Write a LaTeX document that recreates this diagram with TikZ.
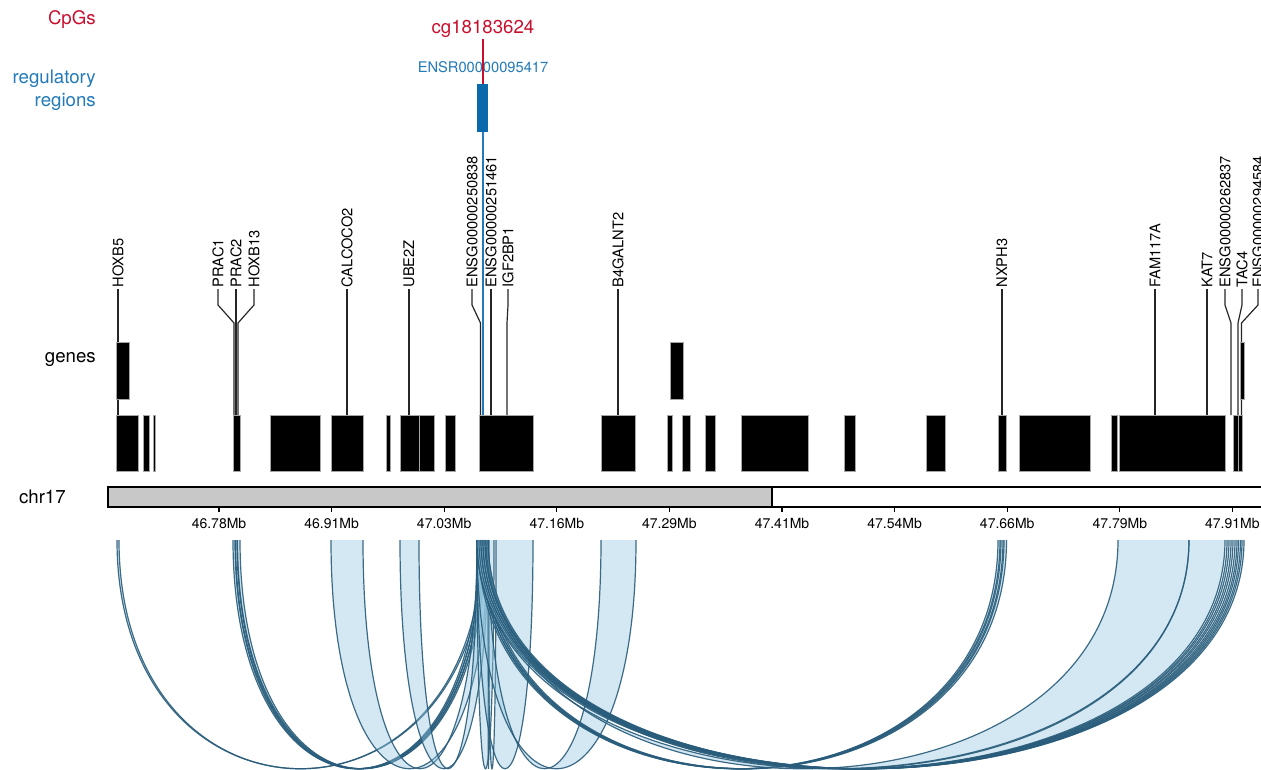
\documentclass[tikz,border=0pt]{standalone}
\usepackage{fontspec}
\setmainfont{TeX Gyre Heros}
\usetikzlibrary{calc}
\usepackage{color}

\definecolor{cpgred}{RGB}{200,16,46}
\definecolor{regblue}{RGB}{35,122,184}
\definecolor{regfill}{RGB}{10,105,170}
\definecolor{chrgrey}{RGB}{200,200,200}
\definecolor{arcfill}{RGB}{146,197,222}
\definecolor{arcline}{RGB}{40,92,122}

% one interaction: far interval #1-#2, other interval #3-#4
\newcommand{\ribbon}[4]{%
  \fill[ribbonfill] (#1,540) .. controls (#1,845) and (#4,845) .. (#4,540)
    -- (#3,540) .. controls (#3,845) and (#2,845) .. (#2,540) -- cycle;
  \draw[ribbonline] (#1,540) .. controls (#1,845) and (#4,845) .. (#4,540);
  \draw[ribbonline] (#2,540) .. controls (#2,845) and (#3,845) .. (#3,540);
}

\begin{document}
\begin{tikzpicture}[x=0.75pt, y=-0.75pt,
  tracklabel/.style={font=\fontsize{14}{17}\selectfont, inner sep=0pt, anchor=east, align=right},
  genelabel/.style={font=\fontsize{11}{13}\selectfont, rotate=90, anchor=west, inner sep=1pt},
  genelink/.style={line width=0.9pt, black!85},
  genebox/.style={fill=black, draw=gray!70, line width=0.4pt},
  ticklabel/.style={font=\fontsize{10.5}{12}\selectfont, inner sep=0pt},
  ribbonfill/.style={fill=arcfill, fill opacity=0.4},
  ribbonline/.style={draw=arcline, line width=0.9pt, draw opacity=0.9}]

\useasboundingbox (0,0) rectangle (1261,770);
\clip (0,0) rectangle (1261,770);

\node [tracklabel, text=cpgred] (CPGS) at (96,20) {CpGs};
\node [tracklabel, text=regblue] (REGS) at (96,90) {regulatory\\regions};
\node [tracklabel] (GENES) at (96,360) {genes};
\node [tracklabel] (CHR) at (66,497) {chr17};

% CpG and regulatory region
\node [font=\fontsize{14}{17}\selectfont, text=cpgred, inner sep=1pt] (CG) at (483,29) {cg18183624};
\node [font=\fontsize{11}{13}\selectfont, text=regblue, inner sep=1pt] (ENSR) at (483,67) {ENSR00000095417};
\draw [regblue, line width=0.9pt] (483,74) -- (483,415);
\draw [cpgred, line width=0.9pt] (CG.south) -- (483,84);
\fill [regfill] (477,84) rectangle (488,132);

% gene labels
\node [genelabel] (HOXB5) at (118,289) {HOXB5};
\node [genelabel] (PRAC1) at (218,289) {PRAC1};
\node [genelabel] (PRAC2) at (236,289) {PRAC2};
\node [genelabel] (HOXB13) at (254,289) {HOXB13};
\node [genelabel] (CALCOCO2) at (347,289) {CALCOCO2};
\node [genelabel] (UBE2Z) at (409,289) {UBE2Z};
\node [genelabel] (ENSGA) at (472,289) {ENSG00000250838};
\node [genelabel] (ENSGB) at (491,289) {ENSG00000251461};
\node [genelabel] (IGF2BP1) at (508,289) {IGF2BP1};
\node [genelabel] (B4GALNT2) at (618,289) {B4GALNT2};
\node [genelabel] (NXPH3) at (1002,289) {NXPH3};
\node [genelabel] (FAM117A) at (1155,289) {FAM117A};
\node [genelabel] (KAT7) at (1207,289) {KAT7};
\node [genelabel] (ENSGC) at (1225,289) {ENSG00000262837};
\node [genelabel] (TAC4) at (1242,289) {TAC4};
\node [genelabel] (ENSGD) at (1258,289) {ENSG00000294584};

\draw [genelink] (HOXB5.west) -- (118,415);
\draw [genelink] (PRAC1.west) -- ++(0,16) -- (234,323) -- (234,415);
\draw [genelink] (PRAC2.west) -- (236,415);
\draw [genelink] (HOXB13.west) -- ++(0,16) -- (238,323) -- (238,415);
\draw [genelink] (CALCOCO2.west) -- (347,415);
\draw [genelink] (UBE2Z.west) -- (409,415);
\draw [genelink] (ENSGA.west) -- ++(0,16) -- (480.5,323) -- (480.5,415);
\draw [genelink] (ENSGB.west) -- (491,415);
\draw [genelink] (IGF2BP1.west) -- ++(0,16) -- (507,323) -- (507,415);
\draw [genelink] (B4GALNT2.west) -- (618,415);
\draw [genelink] (NXPH3.west) -- (1002,415);
\draw [genelink] (FAM117A.west) -- (1155,415);
\draw [genelink] (KAT7.west) -- (1207,415);
\draw [genelink] (ENSGC.west) -- ++(0,16) -- (1231,323) -- (1231,415);
\draw [genelink] (TAC4.west) -- ++(0,16) -- (1238,323) -- (1238,415);
\draw [genelink] (ENSGD.west) -- ++(0,16) -- (1241.5,323) -- (1241.5,415);

% gene models
\foreach \a/\b in {116/129.5, 670/683, 1240/1244}
  \draw [genebox] (\a,342) rectangle (\b,399);
\foreach \a/\b in {116/138.5, 143.3/148.8, 153.6/154.8, 233.5/240.6, 269.8/320.1,
    331.2/363, 386.7/390.7, 400.4/418.9, 418.9/434.4, 445.5/455.5, 479.5/533.5,
    601.2/635.6, 666.9/671.9, 682.2/690.3, 704.8/714.8, 741.3/808.3, 844.4/855.1,
    926/944.8, 998/1006.5, 1018.8/1090.4, 1110.8/1117.7, 1118.8/1225.7,
    1233/1238, 1238/1242.6}
  \draw [genebox] (\a,415) rectangle (\b,471);

% chromosome axis
\draw [fill=chrgrey, line width=0.8pt] (108,487) rectangle (772,507);
\draw [line width=0.8pt] (772,487) -- (1262,487);
\draw [line width=0.8pt] (772,507) -- (1262,507);
\foreach \x/\lab [count=\i] in {219/46.78, 331.6/46.91, 444.2/47.03, 556.8/47.16, 669.4/47.29,
    782/47.41, 894.6/47.54, 1007.2/47.66, 1119.8/47.79, 1232.4/47.91} {
  \draw [line width=0.8pt] (\x,507) -- (\x,512);
  \node [ticklabel] (tick\i) at (\x,523) {\lab Mb};
}

% interactions
\ribbon{117}{119}{482}{484}
\ribbon{233}{235}{479}{481}
\ribbon{235.5}{237}{481}{483}
\ribbon{237.5}{240}{483}{485}
\ribbon{331}{363}{477}{488}
\ribbon{400}{419}{477}{488}
\ribbon{477}{488}{489}{494}
\ribbon{477}{488}{496}{533}
\ribbon{477}{488}{601}{636}
\ribbon{478}{480}{998}{1000}
\ribbon{480}{482}{1001}{1003}
\ribbon{482}{484}{1004}{1006.5}
\ribbon{477}{488}{1118}{1189}
\ribbon{477}{488}{1189}{1225}
\ribbon{479}{481}{1227}{1229}
\ribbon{481}{483}{1231}{1233}
\ribbon{483}{485}{1235}{1237}
\ribbon{485}{487}{1238.5}{1240.5}
\ribbon{486}{488}{1242}{1244}

\end{tikzpicture}
\end{document}
